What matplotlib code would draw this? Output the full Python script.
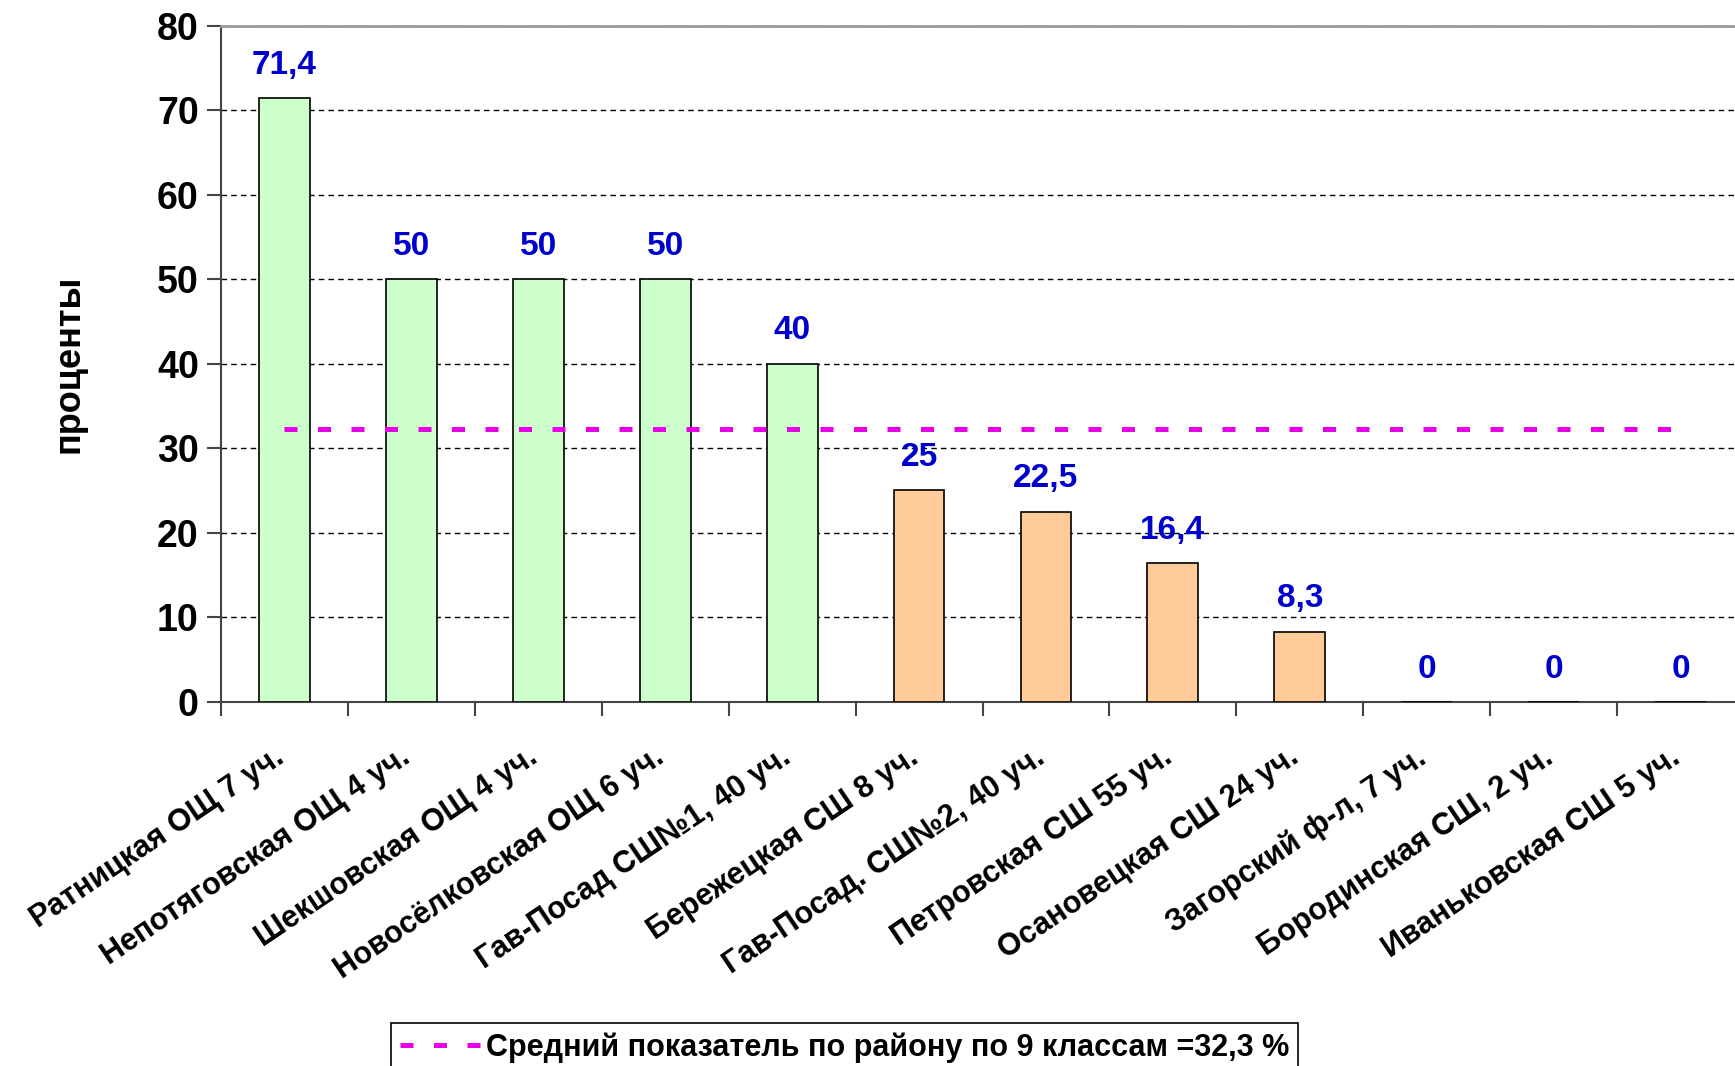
import matplotlib.pyplot as plt
import matplotlib.transforms as mtransforms
import numpy as np

# schools and share of pupils (percent)
schools = ["Ратницкая ОЩ 7 уч.", "Непотяговская ОЩ 4 уч.", "Шекшовская ОЩ 4 уч.",
           "Новосёлковская ОЩ 6 уч.", "Гав-Посад СШ№1, 40 уч.", "Бережецкая СШ 8 уч.",
           "Гав-Посад. СШ№2, 40 уч.", "Петровская СШ 55 уч.", "Осановецкая СШ 24 уч.",
           "Загорский ф-л, 7 уч.", "Бородинская СШ, 2 уч.", "Иваньковская СШ 5 уч."]
values = [71.4, 50, 50, 50, 40, 25, 22.5, 16.4, 8.3, 0, 0, 0]
value_labels = ["71,4", "50", "50", "50", "40", "25", "22,5", "16,4", "8,3", "0", "0", "0"]
average = 32.3
legend_text = "Средний показатель по району по 9 классам =32,3 %"

plt.rcParams['font.family'] = ['Liberation Sans', 'DejaVu Sans']

fig = plt.figure(figsize=(17.35, 10.66), dpi=100)
ax = fig.add_axes([221/1735, 1 - 701.7/1066, 1523/1735, 676.2/1066])

x = np.arange(len(schools))
colors = ['#CCFFCC' if v >= 30 else '#FFCC99' for v in values]
ax.bar(x, values, width=0.4, color=colors, edgecolor='black', linewidth=1.2, zorder=3)

for xi, v, lab in zip(x, values, value_labels):
    ax.annotate(lab, (xi, v), xytext=(0, 23.5), textcoords='offset points',
                ha='center', va='center', color='#0000CC', fontsize=24,
                fontweight='bold', zorder=5)

avg_line, = ax.plot(x, [average] * len(x), color='#E600E6', linewidth=3.6,
                    linestyle=(0, (2.6, 4.1)), dash_capstyle='butt', zorder=4)

ax.set_xlim(-0.5, 11.5)
ax.set_ylim(0, 80)
ax.set_yticks(range(0, 81, 10))
ax.yaxis.grid(True, color='black', linestyle=(0, (4, 3)), linewidth=1)
ax.set_axisbelow(True)

ax.set_xticks(x)
ax.set_xticklabels(schools, rotation=34, ha='right', va='top',
                   rotation_mode='anchor', fontsize=22, fontweight='bold')
ax.tick_params(axis='x', length=0, pad=29)
shift = mtransforms.ScaledTranslation(-12/100, 0, fig.dpi_scale_trans)
for lab in ax.get_xticklabels():
    lab.set_transform(lab.get_transform() + shift)
ax.set_xticks(np.arange(-0.5, 11.6, 1), minor=True)
ax.tick_params(axis='x', which='minor', length=10, width=1.5, color='#444444')
ax.tick_params(axis='y', length=10, width=1.5, color='#444444', pad=6, labelsize=27)
for t in ax.get_yticklabels():
    t.set_fontweight('bold')

ax.spines['left'].set_color('#444444')
ax.spines['left'].set_linewidth(1.5)
ax.spines['bottom'].set_color('#444444')
ax.spines['bottom'].set_linewidth(1.5)
ax.spines['top'].set_color('#999999')
ax.spines['top'].set_linewidth(2)
ax.spines['right'].set_visible(False)

ax.set_ylabel("проценты", fontsize=26, fontweight='bold')
ax.yaxis.set_label_coords(-0.088, 0.5)

leg = fig.legend([avg_line], [legend_text], loc='upper left',
                 bbox_to_anchor=(391/1735, 1 - 1023/1066), borderaxespad=0,
                 fancybox=False, edgecolor='black', framealpha=1, handlelength=2.6,
                 handletextpad=0.2, borderpad=0.3, prop={'weight': 'bold', 'size': 22})
leg.get_frame().set_linewidth(1.2)

fig.savefig('out.png', dpi=100)
